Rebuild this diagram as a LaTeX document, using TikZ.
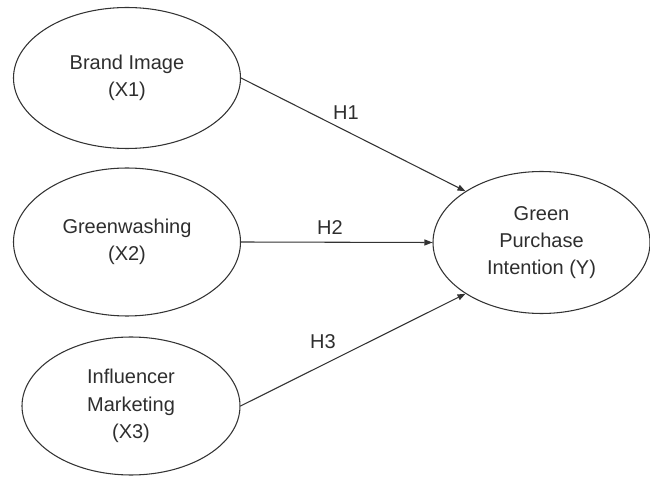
\documentclass[tikz,border=0pt]{standalone}
\usepackage{fontspec}
\setmainfont{Liberation Sans}
\usetikzlibrary{shapes.geometric,arrows.meta}
\definecolor{ink}{HTML}{333333}
\begin{document}
\begin{tikzpicture}[x=0.75pt,y=-0.75pt,
  latent/.style={ellipse,draw=ink,line width=0.8pt,inner sep=0pt,align=center,
    font=\fontsize{15}{20.5}\selectfont,text=ink!90!black},
  path/.style={draw=ink,line width=0.8pt,-{Triangle[length=6pt,width=4.5pt]}},
  hlabel/.style={font=\fontsize{15}{18}\selectfont,text=ink!90!black,inner sep=0pt}]
\useasboundingbox (0,0) rectangle (650,477);
\node[latent,minimum width=170.25pt,minimum height=105.75pt] (b1) at (127,78) {Brand Image\\(X1)};
\node[latent,minimum width=170.25pt,minimum height=111pt] (b2) at (127,242) {Greenwashing\\(X2)};
\node[latent,minimum width=163.5pt,minimum height=103.5pt] (b3) at (131,406) {Influencer\\Marketing\\(X3)};
\node[latent,minimum width=162.75pt,minimum height=106.5pt] (y) at (541.5,242.5) {Green\\Purchase\\Intention (Y)};
\draw[path] (b1.east) -- (y.146);
\draw[path] (b2.east) -- (y.west);
\draw[path] (b3.east) -- (y.214);
\node[hlabel] (h1) at (346,113) {H1};
\node[hlabel] (h2) at (330,228) {H2};
\node[hlabel] (h3) at (323,342) {H3};
\end{tikzpicture}
\end{document}
